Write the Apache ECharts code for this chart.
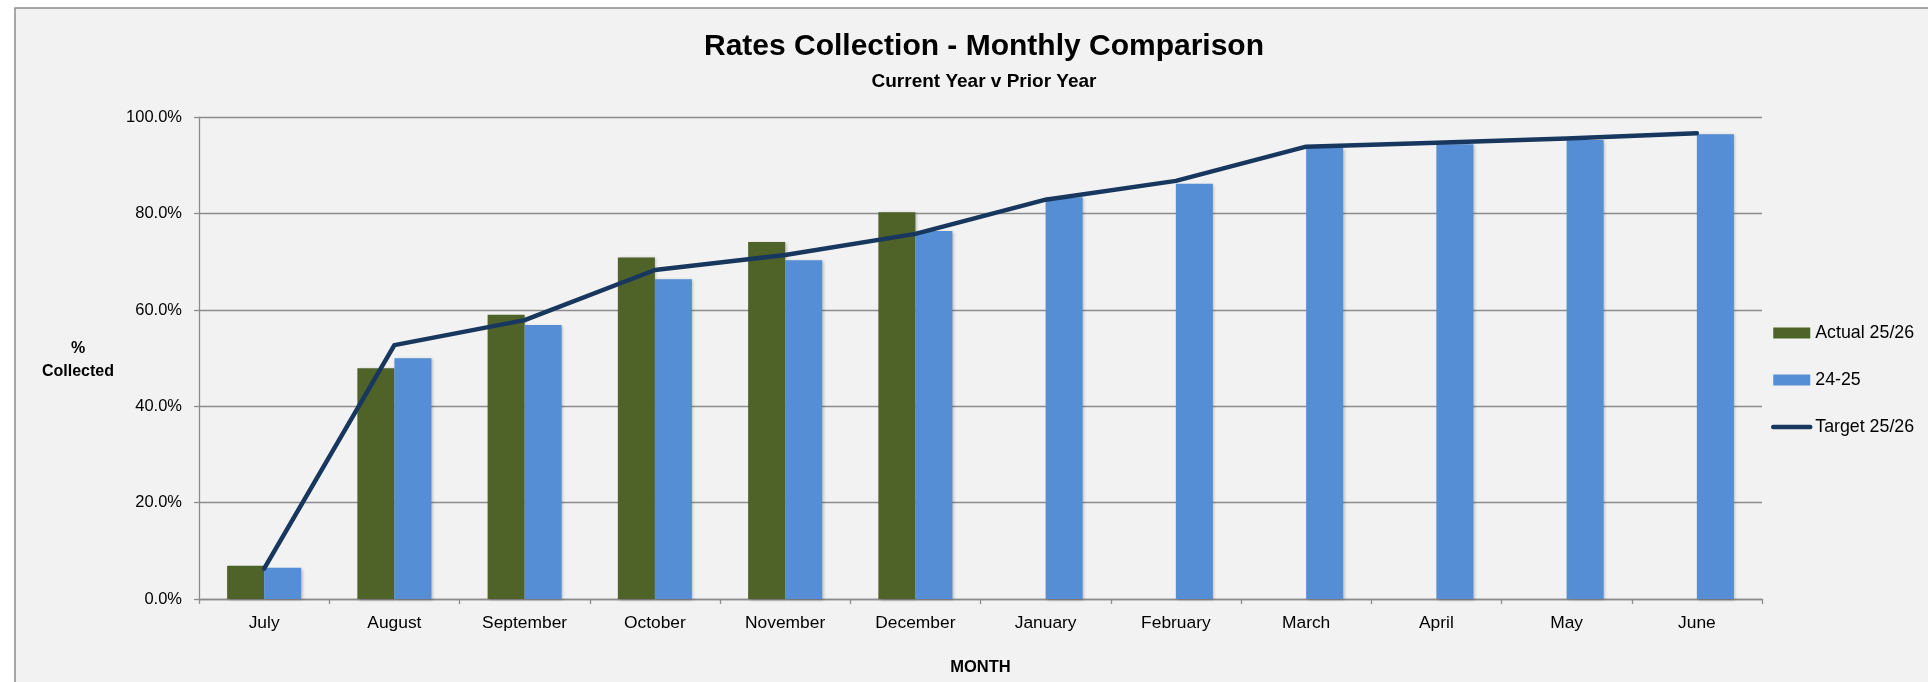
<!DOCTYPE html>
<html>
<head>
<meta charset="utf-8">
<script src="https://cdn.jsdelivr.net/npm/echarts@6/dist/echarts.min.js"></script>
<style>
html,body{margin:0;padding:0;background:#ffffff;}
#chart{width:1928px;height:682px;}
</style>
</head>
<body>
<div id="chart"></div>
<script>
const months = ['July','August','September','October','November','December','January','February','March','April','May','June'];
const actual2526 = [6.9, 47.9, 59.0, 70.9, 74.1, 80.3, null, null, null, null, null, null];
const prior2425 = [6.5, 50.0, 56.9, 66.4, 70.3, 76.4, 83.4, 86.2, 93.7, 94.4, 95.3, 96.5];
const target2526 = [6.3, 52.7, 57.9, 68.3, 71.4, 75.8, 82.9, 86.8, 93.9, 94.7, 95.6, 96.7];
const yTicks = [0, 20, 40, 60, 80, 100];

const FONT = '"Liberation Sans", Arial, sans-serif';
const chart = echarts.init(document.getElementById('chart'), null, {renderer: 'canvas'});
const barShadow = {shadowColor: 'rgba(0,0,0,0.25)', shadowBlur: 3, shadowOffsetX: 1.5, shadowOffsetY: 1};

chart.setOption({
  backgroundColor: '#ffffff',
  animation: false,
  textStyle: {fontFamily: FONT},
  graphic: [
    {type: 'rect', z: -10, shape: {x: 15, y: 8, width: 1940, height: 700},
     style: {fill: '#f2f2f2', stroke: '#8c8c8c', lineWidth: 1.5}},
    {type: 'text', x: 78, y: 360, z: 10,
     style: {text: '%\nCollected', fontFamily: FONT, fontSize: 16, fontWeight: 'bold',
             fill: '#000', align: 'center', verticalAlign: 'middle', lineHeight: 23}}
  ],
  title: [
    {text: 'Rates Collection - Monthly Comparison', left: 979, top: 27, textAlign: 'center',
     textStyle: {fontFamily: FONT, fontSize: 30, fontWeight: 'bold', color: '#000'}},
    {text: 'Current Year v Prior Year', left: 979, top: 67, textAlign: 'center',
     textStyle: {fontFamily: FONT, fontSize: 19, fontWeight: 'bold', color: '#000'}}
  ],
  legend: {
    orient: 'vertical', left: 1771, top: 322, padding: 0, itemWidth: 37, itemHeight: 11, itemGap: 25,
    textStyle: {fontFamily: FONT, fontSize: 17.8, color: '#000', lineHeight: 22},
    data: [
      {name: 'Actual 25/26', icon: 'rect'},
      {name: '24-25', icon: 'rect'},
      {name: 'Target 25/26',
       itemStyle: {color: 'rgba(0,0,0,0)', borderWidth: 0, opacity: 0},
       lineStyle: {color: '#17375e', width: 4.5, cap: 'round'}}
    ]
  },
  grid: {left: 199, right: 166, top: 117.3, bottom: 83, containLabel: false},
  xAxis: {
    type: 'category', data: months,
    name: 'MONTH', nameLocation: 'middle', nameGap: 60,
    nameTextStyle: {fontFamily: FONT, fontSize: 16.5, fontWeight: 'bold', color: '#000'},
    axisLine: {lineStyle: {color: '#8c8c8c', width: 1.3}},
    axisTick: {show: true, length: 5, lineStyle: {color: '#8c8c8c', width: 1.3}},
    axisLabel: {fontFamily: FONT, fontSize: 17.4, color: '#000', margin: 16},
    splitLine: {show: false}
  },
  yAxis: {
    type: 'value', min: yTicks[0], max: yTicks[yTicks.length - 1], interval: 20,
    axisLine: {show: true, lineStyle: {color: '#8c8c8c', width: 1.3}},
    axisTick: {show: true, length: 5, lineStyle: {color: '#8c8c8c', width: 1.3}},
    axisLabel: {fontFamily: FONT, fontSize: 16.5, color: '#000', margin: 17,
                formatter: v => v.toFixed(1) + '%'},
    splitLine: {show: true, lineStyle: {color: '#8c8c8c', width: 1.3}}
  },
  series: [
    {name: 'Actual 25/26', type: 'bar', data: actual2526, barWidth: 37, barGap: '0%',
     itemStyle: Object.assign({color: '#4f6228'}, barShadow)},
    {name: '24-25', type: 'bar', data: prior2425, barWidth: 37, barGap: '0%',
     itemStyle: Object.assign({color: '#558ed5'}, barShadow)},
    {name: 'Target 25/26', type: 'line', data: target2526, symbol: 'none', z: 5,
     lineStyle: {color: '#17375e', width: 4.5, cap: 'round', join: 'round'},
     itemStyle: {color: '#17375e'}}
  ]
});
</script>
</body>
</html>
